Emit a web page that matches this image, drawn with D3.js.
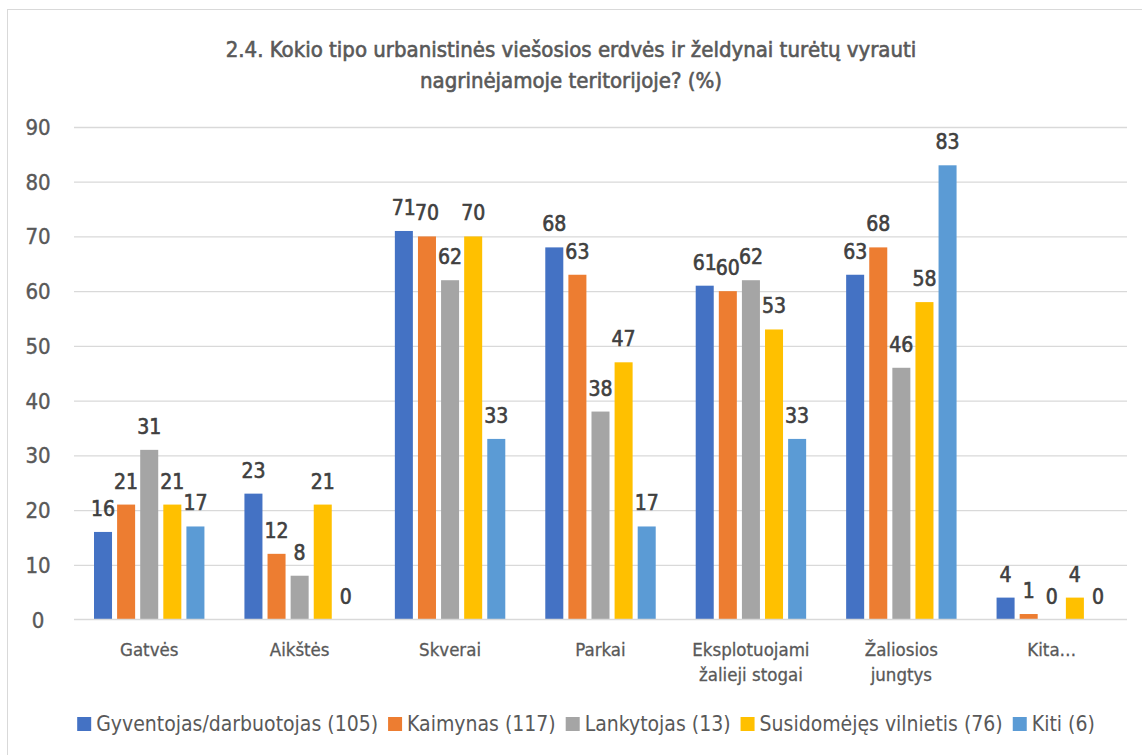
<!DOCTYPE html>
<html>
<head>
<meta charset="utf-8">
<script src="https://cdn.jsdelivr.net/npm/d3@7"></script>
<style>
  body { margin: 0; background: #fff; }
  svg { font-family: "DejaVu Sans Condensed", "Roboto", sans-serif; }
  .grid line { stroke: #d9d9d9; stroke-width: 1.3; }
  .grid .domain { display: none; }
</style>
</head>
<body>
<svg id="chart"></svg>
<script>
const categories = ["Gatvės", "Aikštės", "Skverai", "Parkai", "Eksplotuojami\nžalieji stogai", "Žaliosios\njungtys", "Kita…"];
const seriesNames = ["Gyventojas/darbuotojas (105)", "Kaimynas (117)", "Lankytojas (13)", "Susidomėjęs vilnietis (76)", "Kiti (6)"];
const gyventojas = [16, 23, 71, 68, 61, 63, 4];
const kaimynas = [21, 12, 70, 63, 60, 68, 1];
const lankytojas = [31, 8, 62, 38, 62, 46, 0];
const susidomejes = [21, 21, 70, 47, 53, 58, 4];
const kiti = [17, 0, 33, 17, 33, 83, 0];
const yTicks = [0, 10, 20, 30, 40, 50, 60, 70, 80, 90];
const colors = ["#4472C4", "#ED7D31", "#A5A5A5", "#FFC000", "#5B9BD5"];

const seriesValues = [gyventojas, kaimynas, lankytojas, susidomejes, kiti];
const width = 1142, height = 755;
const plotLeft = 74, plotRight = 1127, plotTop = 127, plotBottom = 619.5;

var svg = d3.select("#chart").attr("width", width).attr("height", height);

// chart frame
svg.append("rect")
    .attr("x", 7.5).attr("y", 9.5)
    .attr("width", 1150).attr("height", 760)
    .attr("fill", "#fff").attr("stroke", "#d9d9d9");

// title
var title = svg.append("text")
    .attr("text-anchor", "middle")
    .attr("fill", "#595959")
    .attr("stroke", "#595959").attr("stroke-width", 0.6)
    .style("font-size", "22px");
title.append("tspan").attr("x", 571).attr("y", 57).text("2.4. Kokio tipo urbanistinės viešosios erdvės ir želdynai turėtų vyrauti");
title.append("tspan").attr("x", 571).attr("y", 88).text("nagrinėjamoje teritorijoje? (%)");

var y = d3.scaleLinear().domain([0, 90]).range([plotBottom, plotTop]);
var x0 = d3.scaleBand().domain(categories).range([plotLeft, plotRight]).paddingInner(0).paddingOuter(0);
var x1 = d3.scaleBand().domain(d3.range(seriesNames.length)).range([20, x0.bandwidth() - 20]).paddingInner(0.22);

svg.append("g")
    .attr("class", "grid")
    .attr("transform", "translate(" + plotLeft + ",0)")
    .call(d3.axisLeft(y).tickValues(yTicks.filter(d => d > 0)).tickSize(-(plotRight - plotLeft)).tickFormat(""));

// y tick labels
svg.selectAll(".ylab")
    .data(yTicks)
    .enter().append("text")
    .attr("class", "ylab")
    .attr("x", 38)
    .attr("y", d => y(d) + 8)
    .attr("text-anchor", "middle")
    .attr("fill", "#595959")
    .attr("stroke", "#595959").attr("stroke-width", 0.4)
    .style("font-size", "22px")
    .text(d => d);

var groups = svg.selectAll(".cat")
    .data(categories)
    .enter().append("g")
    .attr("class", "cat")
    .attr("transform", d => "translate(" + x0(d) + ",0)");

groups.each(function(cat, ci) {
    var g = d3.select(this);
    seriesValues.forEach(function(vals, si) {
        var v = vals[ci];
        g.append("rect")
            .attr("x", x1(si))
            .attr("y", y(v))
            .attr("width", x1.bandwidth())
            .attr("height", plotBottom - y(v))
            .attr("fill", colors[si]);
        g.append("text")
            .attr("x", x1(si) + x1.bandwidth() / 2)
            .attr("y", y(v) - 16)
            .attr("text-anchor", "middle")
            .attr("fill", "#404040")
            .attr("stroke", "#404040").attr("stroke-width", 0.6)
            .style("font-size", "21px")
            .text(v);
    });
    var lines = cat.split("\n");
    var t = g.append("text")
        .attr("text-anchor", "middle")
        .attr("fill", "#595959")
        .attr("stroke", "#595959").attr("stroke-width", 0.3)
        .style("font-size", "18.5px");
    lines.forEach(function(l, li) {
        t.append("tspan").attr("x", x0.bandwidth() / 2).attr("y", 656 + li * 24.5).text(l);
    });
});

// x axis line
svg.append("line")
    .attr("x1", plotLeft).attr("x2", plotRight)
    .attr("y1", plotBottom).attr("y2", plotBottom)
    .attr("stroke", "#d9d9d9").attr("stroke-width", 1.5);

// legend
var legend = svg.append("g");
var lx = 0;
seriesNames.forEach(function(name, i) {
    var item = legend.append("g").attr("transform", "translate(" + lx + ",0)");
    item.append("rect").attr("x", 0).attr("y", -14).attr("width", 14).attr("height", 14).attr("fill", colors[i]);
    var t = item.append("text").attr("x", 19).attr("y", 0)
        .attr("fill", "#595959").style("font-size", "21px").text(name);
    lx += 19 + t.node().getComputedTextLength() + 10;
});
legend.attr("transform", "translate(" + ((width - lx + 10) / 2 + 15) + ",731)");
</script>
</body>
</html>
